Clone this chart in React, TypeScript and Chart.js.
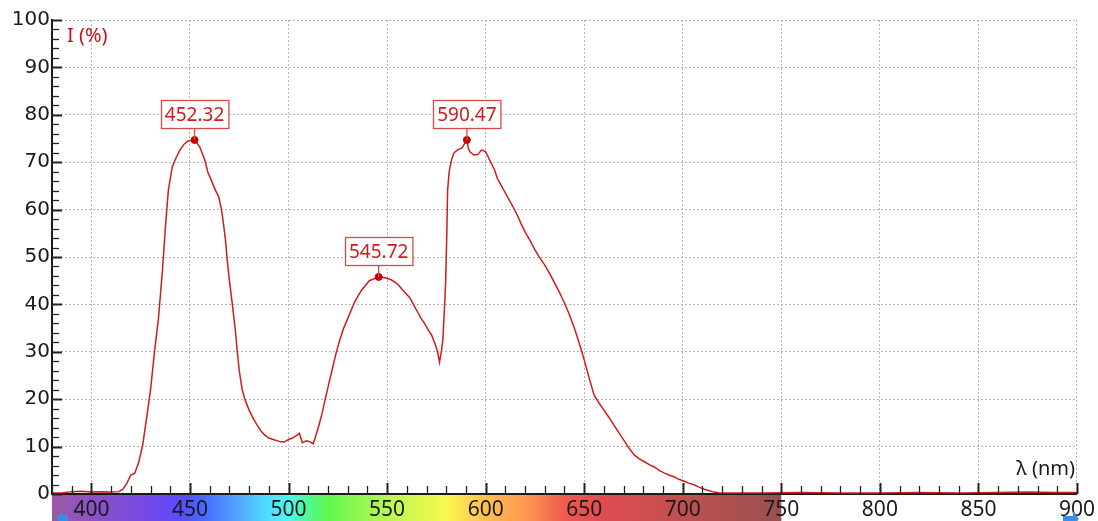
import React, { useEffect, useRef } from "react";
import { Chart, registerables } from "chart.js";

Chart.register(...registerables);

// ---- data ----
const wavelengths = [
  380, 385, 390, 395, 400, 405, 410, 414, 416, 418, 420, 422, 424, 426, 428, 430, 432, 434, 436, 437.5,
  439, 441, 443, 445, 447, 449, 452.32, 455, 457.5, 459, 461, 463, 464.5, 466, 467, 468, 469, 470, 471.5,
  473, 474, 475, 476.5, 478, 480, 482, 484, 486, 488, 490, 493, 496, 498, 500, 502, 504, 505.5, 507, 509,
  511, 512.5, 514, 515.5, 517, 518.5, 520, 522, 524, 526, 528, 530, 533.5, 537, 541, 545.72, 549, 552, 554,
  556, 558, 561.5, 564, 565.5, 567, 569, 571, 572.6, 574.6, 575.6, 576.6, 577.5, 578.3, 579.2, 579.7, 580.3,
  580.7, 581.5, 582.7, 584, 585.8, 588, 590.47, 591.2, 592, 594, 596, 598, 600, 602, 604.5, 606, 608, 610,
  612, 614, 616, 618, 620, 622.5, 625, 627.5, 630, 632.5, 635, 637.5, 640, 642.5, 645, 647.5, 650, 652.5,
  655, 657.5, 660, 662.5, 665, 667.5, 670, 672.5, 675.5, 678, 680.5, 683, 685.6, 688, 690.7, 693, 695.8,
  698, 700.8, 703, 706, 708.5, 711, 713.5, 716, 718.6, 725, 740, 760, 780, 800, 820, 840, 860, 875, 890, 900,
];
const intensities = [
  0.2, 0.2, 0.5, 0.6, 0.4, 0.5, 0.4, 0.5, 1.0, 2.3, 4.0, 4.4, 6.7, 10.3, 16, 22, 30, 37, 47, 56,
  64, 69, 71, 72.6, 73.8, 74.5, 74.7, 73.2, 70.5, 68, 66, 64, 62.8, 60, 57, 53.6, 49, 45, 40,
  34.6, 30, 26, 22, 19.8, 17.7, 16, 14.6, 13.3, 12.4, 11.8, 11.4, 11.0, 11.0, 11.5, 11.8, 12.3, 12.8, 10.8, 11.2,
  11.0, 10.6, 12.5, 14.6, 17, 19.8, 22.5, 26, 29.5, 32.5, 35, 37, 40.5, 43, 45, 45.8, 45.6, 45.2, 44.7,
  44, 43, 41.4, 39.5, 38.4, 37.2, 36, 34.5, 33.5, 31.4, 30, 27.8, 30, 32.5, 40, 44.7, 55,
  64, 68, 70.5, 72, 72.6, 73, 74.7, 73, 72.2, 71.5, 71.6, 72.6, 72.2, 70.5, 68.4, 66.5, 65, 63.5,
  62, 60.5, 58.9, 57, 55.3, 53.5, 51.5, 49.8, 48.3, 46.5, 44.5, 42.5, 40.3, 37.8, 35, 31.8, 28.3, 24.5,
  20.9, 19.2, 17.7, 16.2, 14.6, 13, 11.4, 9.8, 8.2, 7.4, 6.8, 6.2, 5.7, 5.0, 4.4, 4.0, 3.6,
  3.1, 2.7, 2.3, 1.9, 1.4, 1.0, 0.7, 0.4, 0.2, 0.2, 0.2, 0.3, 0.2, 0.2, 0.3, 0.2, 0.3, 0.4, 0.3, 0.3,
];
const peakWavelengths = [452.32, 545.72, 590.47];
const peakIntensities = [74.7, 45.8, 74.7];
const xTickValues = [400, 450, 500, 550, 600, 650, 700, 750, 800, 850, 900];
const yTickValues = [0, 10, 20, 30, 40, 50, 60, 70, 80, 90, 100];
const yAxisTitle = "I (%)";
const xAxisTitle = "λ (nm)";
const xMin = 380;
const xMax = 900;

// visible spectrum colour bar (nm -> colour)
const spectrumNm = [380, 400, 430, 445, 455, 475, 490, 500, 510, 520, 550, 580, 600, 620, 640, 660, 700, 750];
const spectrumColors = [
  "#9a5aa4", "#8c52c4", "#7448e8", "#5a4cff", "#4a62ff", "#50a8ff", "#50e0ff", "#4cf8f0", "#50f890",
  "#60f850", "#b8f850", "#f8f850", "#ffc050", "#ff9850", "#f05a50", "#e04c50", "#c05050", "#985050",
];

const RED = "#d01c1c";
const FONT = "'Noto Sans', 'Open Sans', sans-serif";

const decorPlugin = {
  id: "decor",
  beforeDraw(chart: any) {
    const { ctx, chartArea, scales } = chart;
    const x = scales.x;
    const x0 = x.getPixelForValue(spectrumNm[0]);
    const x1 = x.getPixelForValue(spectrumNm[spectrumNm.length - 1]);
    const g = ctx.createLinearGradient(x0, 0, x1, 0);
    spectrumNm.forEach((nm, i) => {
      g.addColorStop((nm - spectrumNm[0]) / (spectrumNm[spectrumNm.length - 1] - spectrumNm[0]), spectrumColors[i]);
    });
    ctx.save();
    ctx.fillStyle = g;
    ctx.fillRect(x0, chartArea.bottom + 1, x1 - x0, chart.height - chartArea.bottom);
    ctx.restore();
  },
  afterDraw(chart: any) {
    const { ctx, chartArea, scales } = chart;
    const x = scales.x;
    const y = scales.y;
    ctx.save();
    // inward tick marks
    ctx.strokeStyle = "#222";
    for (let v = xMin; v <= xMax; v += 10) {
      const px = Math.round(x.getPixelForValue(v)) + 0.5;
      const major = v % 50 === 0;
      ctx.lineWidth = major ? 2 : 1.3;
      ctx.beginPath();
      ctx.moveTo(px, chartArea.bottom);
      ctx.lineTo(px, chartArea.bottom - (major ? 11 : 8));
      ctx.stroke();
    }
    for (let v = 0; v <= 100; v += 2) {
      const py = Math.round(y.getPixelForValue(v)) + 0.5;
      const major = v % 10 === 0;
      ctx.lineWidth = major ? 2 : 1.3;
      ctx.beginPath();
      ctx.moveTo(chartArea.left, py);
      ctx.lineTo(chartArea.left + (major ? 10 : 7), py);
      ctx.stroke();
    }
    // axis titles
    ctx.font = `20px ${FONT}`;
    ctx.textBaseline = "middle";
    ctx.fillStyle = "#c8141e";
    ctx.textAlign = "left";
    ctx.fillText(yAxisTitle, chartArea.left + 15, chartArea.top + 16);
    ctx.fillStyle = "#1a1a1a";
    ctx.textAlign = "right";
    ctx.fillText(xAxisTitle, chartArea.right - 2, chartArea.bottom - 25);

    // peak annotations
    ctx.font = `19px ${FONT}`;
    peakWavelengths.forEach((wl, i) => {
      const px = x.getPixelForValue(wl);
      const py = y.getPixelForValue(peakIntensities[i]);
      const label = wl.toFixed(2);
      const tw = ctx.measureText(label).width;
      const w = tw + 8;
      const h = 28;
      const bx = Math.round(px - w / 2) + 0.5;
      const by = Math.round(py - 12 - h) + 0.5;
      ctx.strokeStyle = "#d84a4a";
      ctx.lineWidth = 1.3;
      ctx.beginPath();
      ctx.moveTo(px, by + h);
      ctx.lineTo(px, py);
      ctx.stroke();
      ctx.fillStyle = "#ffffff";
      ctx.fillRect(bx, by, w, h);
      ctx.strokeRect(bx, by, w, h);
      ctx.fillStyle = RED;
      ctx.textAlign = "center";
      ctx.textBaseline = "middle";
      ctx.fillText(label, px, by + h / 2 + 1);
    });

    // small blue scroll arrows
    ctx.fillStyle = "#3a8ee8";
    const ay = chart.height - 3;
    ctx.beginPath();
    ctx.moveTo(chartArea.left + 4, ay);
    ctx.lineTo(chartArea.left + 10, ay - 6);
    ctx.lineTo(chartArea.left + 10, ay - 3);
    ctx.lineTo(chartArea.left + 16, ay - 3);
    ctx.lineTo(chartArea.left + 16, ay + 5);
    ctx.lineTo(chartArea.left + 10, ay + 5);
    ctx.closePath();
    ctx.fill();
    const rx = chartArea.right;
    ctx.beginPath();
    ctx.moveTo(rx - 14, ay - 2);
    ctx.lineTo(rx - 4, ay - 2);
    ctx.lineTo(rx - 4, ay - 7);
    ctx.lineTo(rx + 2, ay + 1);
    ctx.lineTo(rx - 4, ay + 8);
    ctx.lineTo(rx - 14, ay + 8);
    ctx.closePath();
    ctx.fill();
    ctx.restore();
  },
};

export default function App() {
  const ref = useRef<HTMLCanvasElement | null>(null);
  useEffect(() => {
    if (!ref.current) return;
    const points = wavelengths.map((w, i) => ({ x: w, y: intensities[i] }));
    const peaks = peakWavelengths.map((w, i) => ({ x: w, y: peakIntensities[i] }));
    const chart = new Chart(ref.current, {
      type: "line",
      data: {
        datasets: [
          {
            type: "scatter",
            data: peaks,
            pointRadius: 3.5,
            pointBackgroundColor: "#c80000",
            pointBorderColor: "#c80000",
            showLine: false,
          } as any,
          {
            data: points,
            borderColor: RED,
            borderWidth: 1.5,
            pointRadius: 0,
            tension: 0,
            fill: false,
          },
        ],
      },
      options: {
        animation: false,
        responsive: false,
        maintainAspectRatio: false,
        devicePixelRatio: 1,
        layout: { padding: { top: 20, right: 20, left: 0, bottom: 0 } },
        plugins: { legend: { display: false }, tooltip: { enabled: false } },
        scales: {
          x: {
            type: "linear",
            min: xMin,
            max: xMax,
            afterBuildTicks: (s: any) => {
              s.ticks = xTickValues.map((v) => ({ value: v }));
            },
            afterFit: (s: any) => {
              s.height = 27;
            },
            grid: { color: "#b4b4b4", lineWidth: 1, drawTicks: false },
            border: { display: true, color: "#1a1a1a", width: 2, dash: [2, 2] },
            ticks: {
              font: { family: FONT, size: 21 },
              color: "#1a1a1a",
              padding: 3,
              maxRotation: 0,
              autoSkip: false,
            },
          },
          y: {
            type: "linear",
            min: 0,
            max: 100,
            afterBuildTicks: (s: any) => {
              s.ticks = yTickValues.map((v) => ({ value: v }));
            },
            afterFit: (s: any) => {
              s.width = 52;
            },
            grid: { color: "#b4b4b4", lineWidth: 1, drawTicks: false },
            border: { display: true, color: "#1a1a1a", width: 2, dash: [2, 2] },
            ticks: {
              font: { family: "'DejaVu Sans', sans-serif", size: 20 },
              color: "#1a1a1a",
              padding: 2,
              autoSkip: false,
            },
          },
        },
      },
      plugins: [decorPlugin],
    });
    return () => chart.destroy();
  }, []);
  return (
    <div style={{ position: "fixed", left: 0, top: 0, width: 1098, height: 521, background: "#fff" }}>
      <canvas ref={ref} width={1098} height={521} style={{ display: "block" }} />
    </div>
  );
}
